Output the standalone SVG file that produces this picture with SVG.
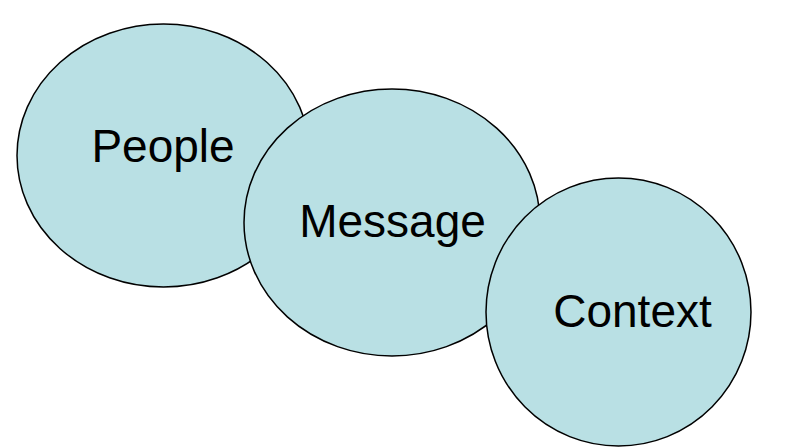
<svg xmlns="http://www.w3.org/2000/svg" width="787" height="448" viewBox="0 0 787 448">
<style>
.node{fill:#B9E0E4;stroke:#000;stroke-width:1.5}
.lbl{font-family:"Liberation Sans",Arial,sans-serif;font-size:46px;fill:#000;text-anchor:middle}
</style>
<rect width="787" height="448" fill="#fff"/>
<g id="connectors"></g>
<g id="people">
<ellipse class="node" cx="163.5" cy="155.5" rx="146.5" ry="131.5"/>
<text class="lbl" x="163" y="162">People</text>
</g>
<g id="message">
<ellipse class="node" cx="392" cy="222.5" rx="148" ry="133.5"/>
<text class="lbl" x="392.5" y="237">Message</text>
</g>
<g id="context">
<ellipse class="node" cx="618.5" cy="312" rx="132.5" ry="134"/>
<text class="lbl" x="632.5" y="327">Context</text>
</g>
</svg>
